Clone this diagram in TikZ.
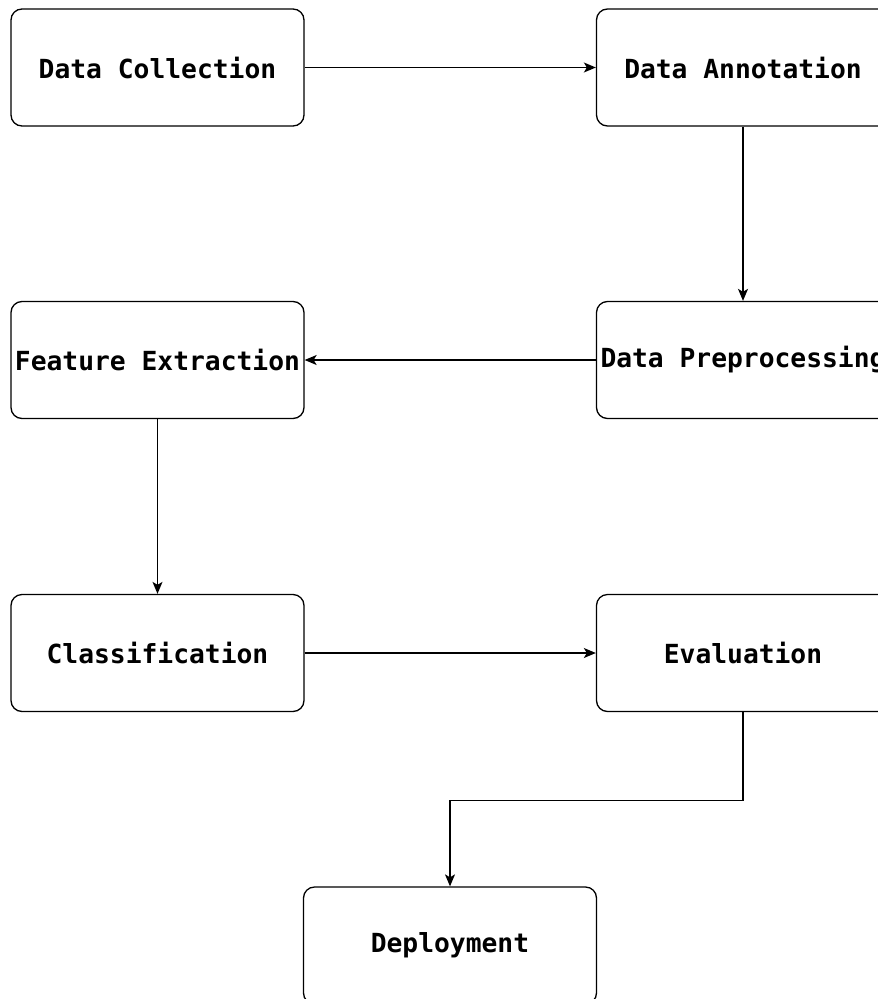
\documentclass[tikz,border=0pt]{standalone}
\usepackage{fontspec}
\setmonofont{DejaVu Sans Mono}
\usetikzlibrary{arrows.meta}
\tikzset{
  stage/.style={draw=black, line width=1.3pt, rounded corners=11pt, fill=white,
    minimum width=293pt, minimum height=117pt, inner sep=0pt,
    font=\ttfamily\bfseries\fontsize{26.3}{30}\selectfont},
  flow/.style={draw=black, line width=1.3pt,
    -{Stealth[length=12pt, width=10pt, inset=3pt]}}
}
\begin{document}
\begin{tikzpicture}[x=1pt, y=-1pt]
  \useasboundingbox (0,0) rectangle (878,999);
  \clip (0,0) rectangle (878,999);
  % pipeline stages
  \node[stage] (collect) at (157.5,67.5) {Data Collection};
  \node[stage] (annot)   at (743,67.5)   {Data Annotation};
  \node[stage] (prep)    at (743,360)    {Data Preprocessing};
  \node[stage] (feat)    at (157.5,360)  {Feature Extraction};
  \node[stage] (classif) at (157.5,653)  {Classification};
  \node[stage] (eval)    at (743,653)    {Evaluation};
  \node[stage] (deploy)  at (450,945.5)  {Deployment};
  % connectors
  \draw[flow] (collect) -- (annot);
  \draw[flow] (annot) -- (prep);
  \draw[flow] (prep) -- (feat);
  \draw[flow] (feat) -- (classif);
  \draw[flow] (classif) -- (eval);
  \draw[flow] (eval.south) -- ++(0,88) -| (deploy.north);
\end{tikzpicture}
\end{document}
